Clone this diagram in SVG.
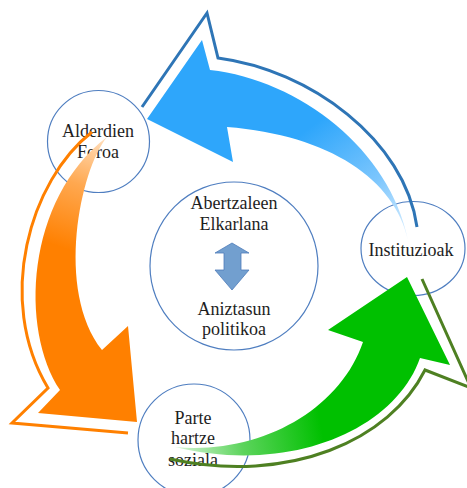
<svg xmlns="http://www.w3.org/2000/svg" width="467" height="488" viewBox="0 0 467 488">
<style>
.node{fill:#ffffff;stroke:#4f7ec0;stroke-width:1.2}
.lbl{font-family:"Liberation Serif","Times New Roman",serif;font-size:18px;fill:#1e1e1e;text-anchor:middle}
.outline{fill:none;stroke-width:3;stroke-linejoin:miter}
</style>
<defs>
<linearGradient id="gBlue" gradientUnits="userSpaceOnUse" x1="408" y1="240" x2="320" y2="120">
<stop offset="0" stop-color="#dff1ff"/>
<stop offset="0.45" stop-color="#7cc6fd"/>
<stop offset="1" stop-color="#2ea6fb"/>
</linearGradient>
<linearGradient id="gOrange" gradientUnits="userSpaceOnUse" x1="107" y1="137" x2="70" y2="250">
<stop offset="0" stop-color="#ffe0c0"/>
<stop offset="0.45" stop-color="#ffa850"/>
<stop offset="1" stop-color="#ff8000"/>
</linearGradient>
<linearGradient id="gGreen" gradientUnits="userSpaceOnUse" x1="175" y1="447" x2="320" y2="420">
<stop offset="0" stop-color="#d8f5d8"/>
<stop offset="0.45" stop-color="#5cd45c"/>
<stop offset="1" stop-color="#00c000"/>
</linearGradient>
</defs>

<g id="node-center">
<circle class="node" cx="234" cy="266" r="84"/>
<text class="lbl" x="234" y="209">Abertzaleen</text>
<text class="lbl" x="234" y="230">Elkarlana</text>
<path d="M232 243 L249 253 L241 253 L241 270 L249 270 L232 290 L215 270 L224 270 L224 253 L215 253 Z" fill="#729fcf" stroke="#4f7cba" stroke-width="0.8"/>
<text class="lbl" x="234" y="315">Aniztasun</text>
<text class="lbl" x="234" y="335">politikoa</text>
</g>
<g id="node-alderdien">
<circle class="node" cx="98.5" cy="141.5" r="51"/>
<text class="lbl" x="98" y="137">Alderdien</text>
<text class="lbl" x="98" y="158">Foroa</text>
</g>
<g id="node-instituzioak">
<ellipse class="node" cx="413" cy="248.5" rx="52" ry="47"/>
<text class="lbl" x="411" y="256">Instituzioak</text>
</g>
<g id="node-parte">
<circle class="node" cx="194" cy="440" r="56"/>
<text class="lbl" x="193" y="424">Parte</text>
<text class="lbl" x="193" y="444">hartze</text>
<text class="lbl" x="193" y="466">soziala</text>
</g>

<g id="connectors">
<path d="M147 119 L202 40 L210 70 C300 80 390 150 408 240 C395 180 330 135 227 127 L233 162 Z" fill="url(#gBlue)"/>
<path class="outline" d="M142 107 L207 13 L218 58 C310 70 405 140 417 227" stroke="#2e75b6"/>
<path d="M137 422 L38 413 L60 390 C20 330 25 200 107 137 C80 170 55 290 102 350 L128 326 Z" fill="url(#gOrange)"/>
<path class="outline" d="M92 132 C30 180 -5 300 48 388 L12 423 L128 433" stroke="#ff8000"/>
<path d="M407 277 L450 365 L420 358 C395 430 290 475 175 447 C260 455 340 410 363 342 L328 330 Z" fill="url(#gGreen)"/>
<path class="outline" d="M422 279 L471 388 L425 370 C390 440 290 485 170 459" stroke="#4e8022"/>
</g>
</svg>
